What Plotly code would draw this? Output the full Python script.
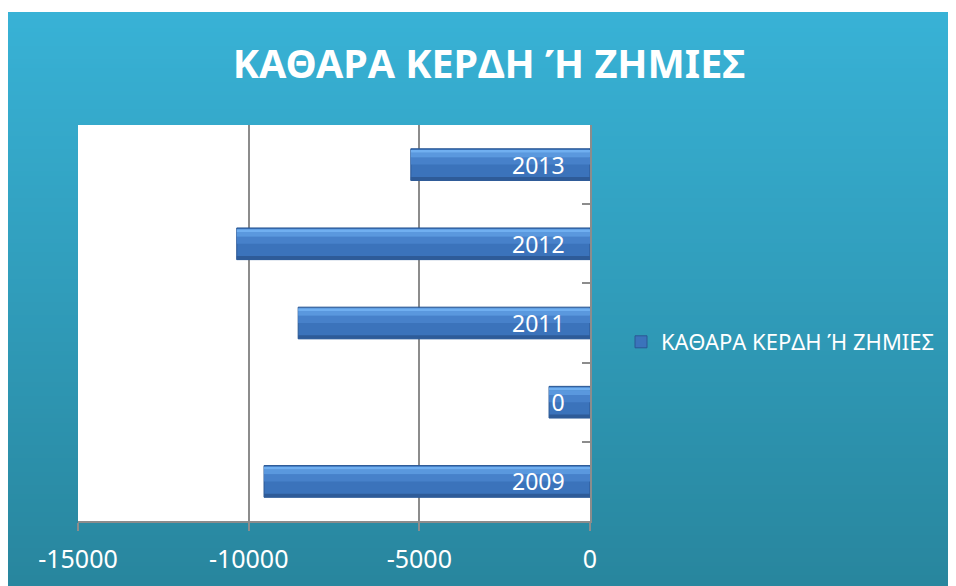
import zlib, struct, base64
import plotly.graph_objects as go

# ---- data ----
years = ["2009", "2010", "2011", "2012", "2013"]
net_result = [-9550, -1200, -8550, -10350, -5250]
series_name = "ΚΑΘΑΡΑ ΚΕΡΔΗ Ή ΖΗΜΙΕΣ"
title_text = "ΚΑΘΑΡΑ ΚΕΡΔΗ Ή ΖΗΜΙΕΣ"
x_ticks = [-15000, -10000, -5000, 0]

OFF = 8  # page body margin in the browser
W, H = 956 - OFF, 586 - OFF
L, R, T, B = 78 - OFF, 590 - OFF, 125 - OFF, 521 - OFF  # plot area in figure px


def png_gradient(top, bottom, n=128):
    rows = b""
    for i in range(n):
        t = i / (n - 1)
        c = bytes(int(round(top[k] + (bottom[k] - top[k]) * t)) for k in range(3))
        rows += b"\x00" + c + c

    def chunk(tag, data):
        return (struct.pack(">I", len(data)) + tag + data +
                struct.pack(">I", zlib.crc32(tag + data) & 0xffffffff))

    png = (b"\x89PNG\r\n\x1a\n" +
           chunk(b"IHDR", struct.pack(">IIBBBBB", 2, n, 8, 2, 0, 0, 0)) +
           chunk(b"IDAT", zlib.compress(rows)) + chunk(b"IEND", b""))
    return "data:image/png;base64," + base64.b64encode(png).decode()


# reference-page px -> paper fractions
def px2x(px):
    return (px - OFF - L) / (R - L)


def px2y(py):
    return (B - (py - OFF)) / (B - T)


fig = go.Figure()

# main bar
fig.add_trace(go.Bar(
    y=years, x=net_result, orientation="h", name=series_name,
    width=0.4, offset=-0.2,
    marker=dict(color="#3B73BB", line=dict(color="#2B5894", width=1)),
    showlegend=True, hoverinfo="x+y",
))
# shading bands (bevel look): (offset, width, colour)
bands = [(-0.2, 0.045, "#2E5B98"), (0.0, 0.09, "#4781CA"),
         (0.09, 0.06, "#5A98DE"), (0.15, 0.035, "#70AFF0")]
for off, wd, col in bands:
    fig.add_trace(go.Bar(
        y=years, x=net_result, orientation="h", showlegend=False,
        width=wd, offset=off,
        marker=dict(color=col, line=dict(width=0)),
        hoverinfo="skip",
    ))

# labels inside the bars (category names at the bar end)
for i, yr in enumerate(years):
    fig.add_annotation(x=0, y=i, xref="x", yref="y", text=yr,
                       showarrow=False, xanchor="right", xshift=-23,
                       font=dict(color="white", size=23, family="Noto Sans"))

fig.update_layout(
    width=W, height=H,
    margin=dict(l=L, r=W - R, t=T, b=H - B, pad=0),
    paper_bgcolor="white", plot_bgcolor="white",
    barmode="overlay",
    title=dict(text=title_text, xref="paper", yref="container",
               x=px2x(489), xanchor="center", y=1 - (64 - OFF) / H, yanchor="middle",
               font=dict(color="white", size=39.5, family="Noto Sans", weight="bold")),
    legend=dict(x=px2x(621), y=px2y(342), xanchor="left", yanchor="middle",
                bgcolor="rgba(0,0,0,0)",
                font=dict(color="white", size=22, family="Noto Sans")),
    xaxis=dict(range=[-15000, 0], tickvals=x_ticks,
               ticktext=[str(v) for v in x_ticks],
               showgrid=True, gridcolor="#8c8c8c", gridwidth=1.5,
               zeroline=False, showline=True, linecolor="#8c8c8c", linewidth=2,
               ticks="outside", ticklen=8, tickwidth=2, tickcolor="#8c8c8c",
               ticklabelstandoff=7,
               tickfont=dict(color="white", size=25, family="Noto Sans"),
               fixedrange=True),
    yaxis=dict(type="category", categoryorder="array", categoryarray=years,
               range=[-0.5, len(years) - 0.5], autorange=False,
               side="right", showticklabels=False, showgrid=False,
               ticks="inside", tickson="boundaries", ticklen=8, tickwidth=2,
               tickcolor="#8c8c8c", showline=True, linecolor="#8c8c8c",
               linewidth=2, zeroline=False, fixedrange=True),
    images=[dict(source=png_gradient((56, 178, 214), (40, 134, 158)),
                 xref="paper", yref="paper",
                 x=px2x(8), y=px2y(12),
                 sizex=px2x(956) - px2x(8), sizey=px2y(12) - px2y(586),
                 xanchor="left", yanchor="top", sizing="stretch",
                 layer="below")],
    shapes=[
        dict(type="rect", xref="paper", yref="paper",
             x0=px2x(5), x1=px2x(8), y0=px2y(586), y1=px2y(14),
             fillcolor="#dcdcdc", line=dict(width=0), layer="below"),
        dict(type="rect", xref="paper", yref="paper",
             x0=0, x1=1, y0=0, y1=1,
             fillcolor="white", line=dict(width=0), layer="below"),
    ],
)

fig.write_html("out.html")
